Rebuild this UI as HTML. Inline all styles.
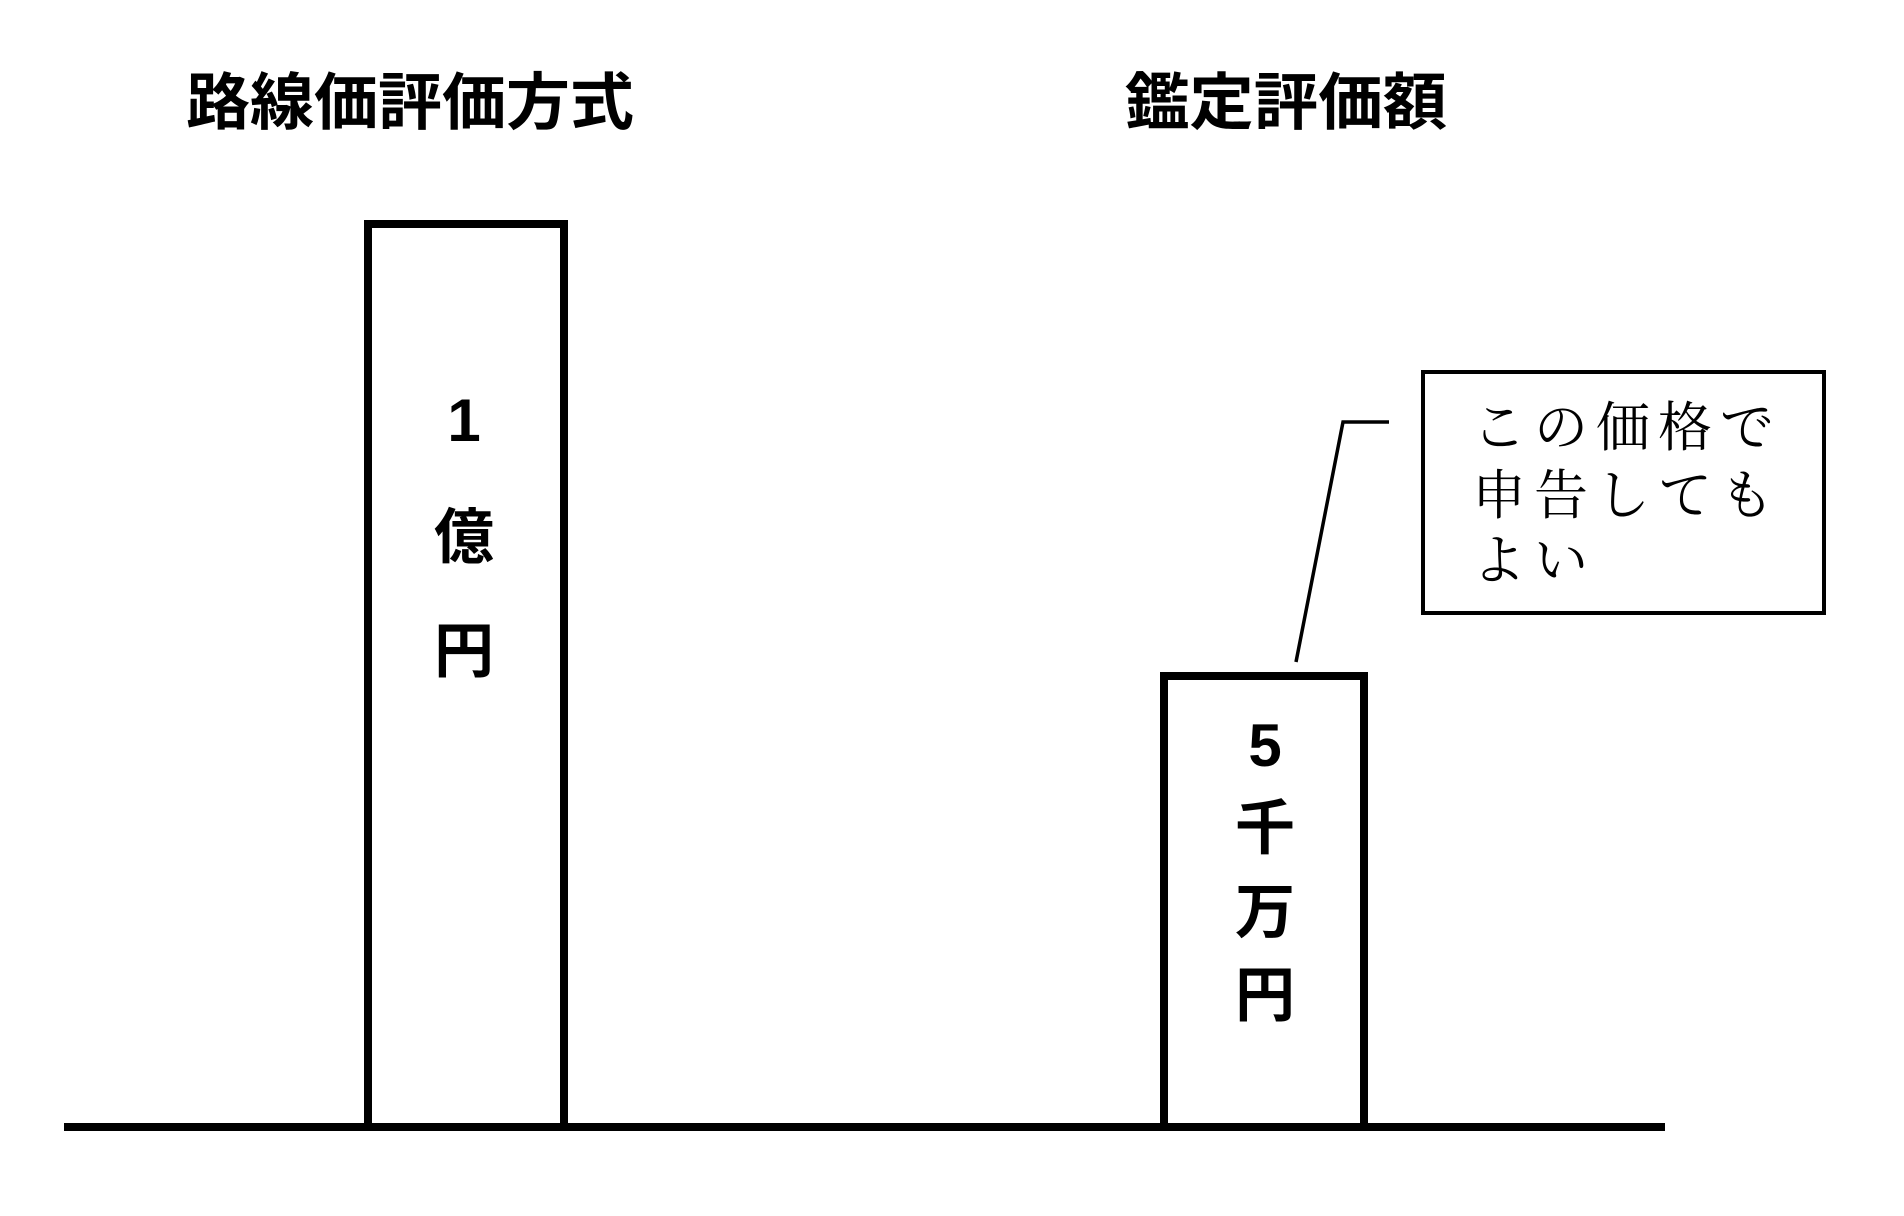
<!DOCTYPE html>
<html><head><meta charset="utf-8">
<style>
html,body{margin:0;padding:0;background:#fff;}
svg{display:block;}
.t{font-family:"Liberation Sans","Noto Sans CJK JP",sans-serif;font-weight:bold;font-size:62px;fill:#000;}
.b{font-family:"Liberation Sans","Noto Sans CJK JP",sans-serif;font-weight:bold;font-size:60px;fill:#000;text-anchor:middle;}
.m{font-family:"Liberation Serif","Noto Serif CJK SC",serif;font-size:54px;fill:#000;letter-spacing:8px;}
</style></head>
<body>
<svg width="1904" height="1216" viewBox="0 0 1904 1216" xmlns="http://www.w3.org/2000/svg">
<rect width="1904" height="1216" fill="#fff"/>
<text class="t" x="186" y="124" textLength="448" lengthAdjust="spacingAndGlyphs">路線価評価方式</text>
<text class="t" x="1125" y="124" textLength="322" lengthAdjust="spacingAndGlyphs">鑑定評価額</text>
<line x1="64" y1="1127" x2="1665" y2="1127" stroke="#000" stroke-width="8"/>
<rect x="368" y="224" width="196" height="903" fill="none" stroke="#000" stroke-width="8"/>
<text class="b" x="464" y="441">1</text>
<text class="b" x="464" y="558">億</text>
<text class="b" x="464" y="672">円</text>
<rect x="1164" y="676" width="200" height="451" fill="none" stroke="#000" stroke-width="8"/>
<text class="b" x="1265" y="766">5</text>
<text class="b" x="1265" y="849">千</text>
<text class="b" x="1265" y="933">万</text>
<text class="b" x="1265" y="1016">円</text>
<polyline points="1389,422 1343,422 1296,662" fill="none" stroke="#000" stroke-width="3.5"/>
<rect x="1423" y="372" width="401" height="241" fill="none" stroke="#000" stroke-width="4"/>
<text class="m" x="1472" y="446">この価格で</text>
<text class="m" x="1472" y="514">申告しても</text>
<text class="m" x="1472" y="579">よい</text>
</svg>
</body></html>
